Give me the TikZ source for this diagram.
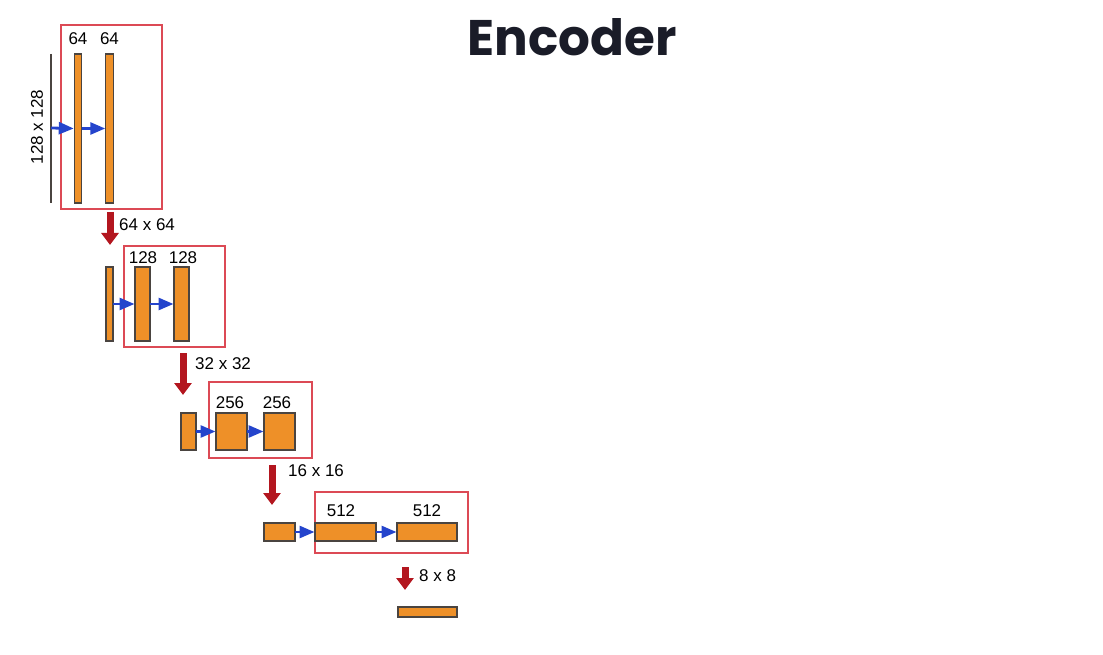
\documentclass[tikz,border=0pt]{standalone}
\usepackage{fontspec}
\setmainfont{Liberation Sans}
\newfontfamily\titlefont{Poppins}
\usetikzlibrary{arrows.meta, positioning}

\definecolor{barfill}{HTML}{EE9028}
\definecolor{barline}{HTML}{4A4440}
\definecolor{boxred}{HTML}{DC4A55}
\definecolor{poolred}{HTML}{B3161F}
\definecolor{convblue}{HTML}{2444CC}
\definecolor{titleink}{HTML}{1A1C28}

\tikzset{
  bar/.style={draw=barline, line width=1.2pt, fill=barfill, inner sep=0pt, outer sep=0pt},
  stagebox/.style={draw=boxred, line width=1.2pt},
  conv/.style={draw=convblue, line width=2.8pt, -{Triangle[length=15pt, width=12pt]}, shorten >=0.5pt},
  pool/.style={draw=poolred, line width=7pt, -{Triangle[length=12pt, width=17pt]}},
  chan/.style={font=\fontsize{17}{20}\selectfont, inner sep=0pt, anchor=base},
  size/.style={font=\fontsize{17}{20}\selectfont, inner sep=0pt, anchor=west}
}

\begin{document}
\begin{tikzpicture}[x=1pt, y=-1pt]
  \useasboundingbox (0,0) rectangle (1103,655);

  % title
  \node[font=\titlefont\bfseries\fontsize{50}{58}\selectfont, text=titleink] (title) at (572,37) {Encoder};

  % stage 1 : 128 x 128
  \draw[stagebox] (61,25) rectangle (162,209);
  \coordinate (in1) at (51,128);
  \draw[line width=2pt, barline] (51,54) -- (51,203);
  \node[font=\fontsize{17}{20}\selectfont, rotate=90, inner sep=0pt] (res1) at (37,127) {128 x 128};
  \node[bar, minimum width=7.5pt, minimum height=149pt] (b11) at (78,128.5) {};
  \node[bar, minimum width=7.5pt, minimum height=149pt] (b12) at (109.5,128.5) {};
  \node[chan] at (78,45) {64};
  \node[chan] at (109.5,45) {64};
  \draw[conv] (in1) -- (b11.west);
  \draw[conv] (b11.east) -- (b12.west);

  % pooling 1
  \coordinate (d1a) at (110,212);
  \coordinate (d1b) at (110,245);
  \draw[pool] (d1a) -- (d1b);
  \node[size] (res2) at (119,225) {64 x 64};

  % stage 2 : 64 x 64
  \draw[stagebox] (124,246) rectangle (225,347);
  \node[bar, minimum width=7pt, minimum height=74pt] (p2) at (109.5,304) {};
  \node[bar, minimum width=15pt, minimum height=74pt] (b21) at (142.5,304) {};
  \node[bar, minimum width=15pt, minimum height=74pt] (b22) at (181.5,304) {};
  \node[chan] at (143,263) {128};
  \node[chan] at (183,263) {128};
  \draw[conv] (p2.east) -- (b21.west);
  \draw[conv] (b21.east) -- (b22.west);

  % pooling 2
  \coordinate (d2a) at (183,353);
  \coordinate (d2b) at (183,395);
  \draw[pool] (d2a) -- (d2b);
  \node[size] (res3) at (195,364) {32 x 32};

  % stage 3 : 32 x 32
  \draw[stagebox] (209,382) rectangle (312,458);
  \node[bar, minimum width=15pt, minimum height=37pt] (p3) at (188.5,431.5) {};
  \node[bar, minimum width=31pt, minimum height=37pt] (b31) at (231.5,431.5) {};
  \node[bar, minimum width=31pt, minimum height=37pt] (b32) at (279.5,431.5) {};
  \node[chan] at (230,408) {256};
  \node[chan] at (277,408) {256};
  \draw[conv] (p3.east) -- (b31.west);
  \draw[conv] (b31.east) -- (b32.west);

  % pooling 3
  \coordinate (d3a) at (272,465);
  \coordinate (d3b) at (272,505);
  \draw[pool] (d3a) -- (d3b);
  \node[size] (res4) at (288,471) {16 x 16};

  % stage 4 : 16 x 16
  \draw[stagebox] (315,492) rectangle (468,553);
  \node[bar, minimum width=31pt, minimum height=18pt] (p4) at (279.5,532) {};
  \node[bar, minimum width=61pt, minimum height=18pt] (b41) at (345.5,532) {};
  \node[bar, minimum width=60pt, minimum height=18pt] (b42) at (427,532) {};
  \node[chan] at (341,516) {512};
  \node[chan] at (427,516) {512};
  \draw[conv] (p4.east) -- (b41.west);
  \draw[conv] (b41.east) -- (b42.west);

  % pooling 4
  \coordinate (d4a) at (405,567);
  \coordinate (d4b) at (405,590);
  \draw[pool] (d4a) -- (d4b);
  \node[size] (res5) at (419,576) {8 x 8};

  % bottleneck input
  \node[bar, minimum width=59pt, minimum height=10pt] (p5) at (427.5,612) {};
\end{tikzpicture}
\end{document}
